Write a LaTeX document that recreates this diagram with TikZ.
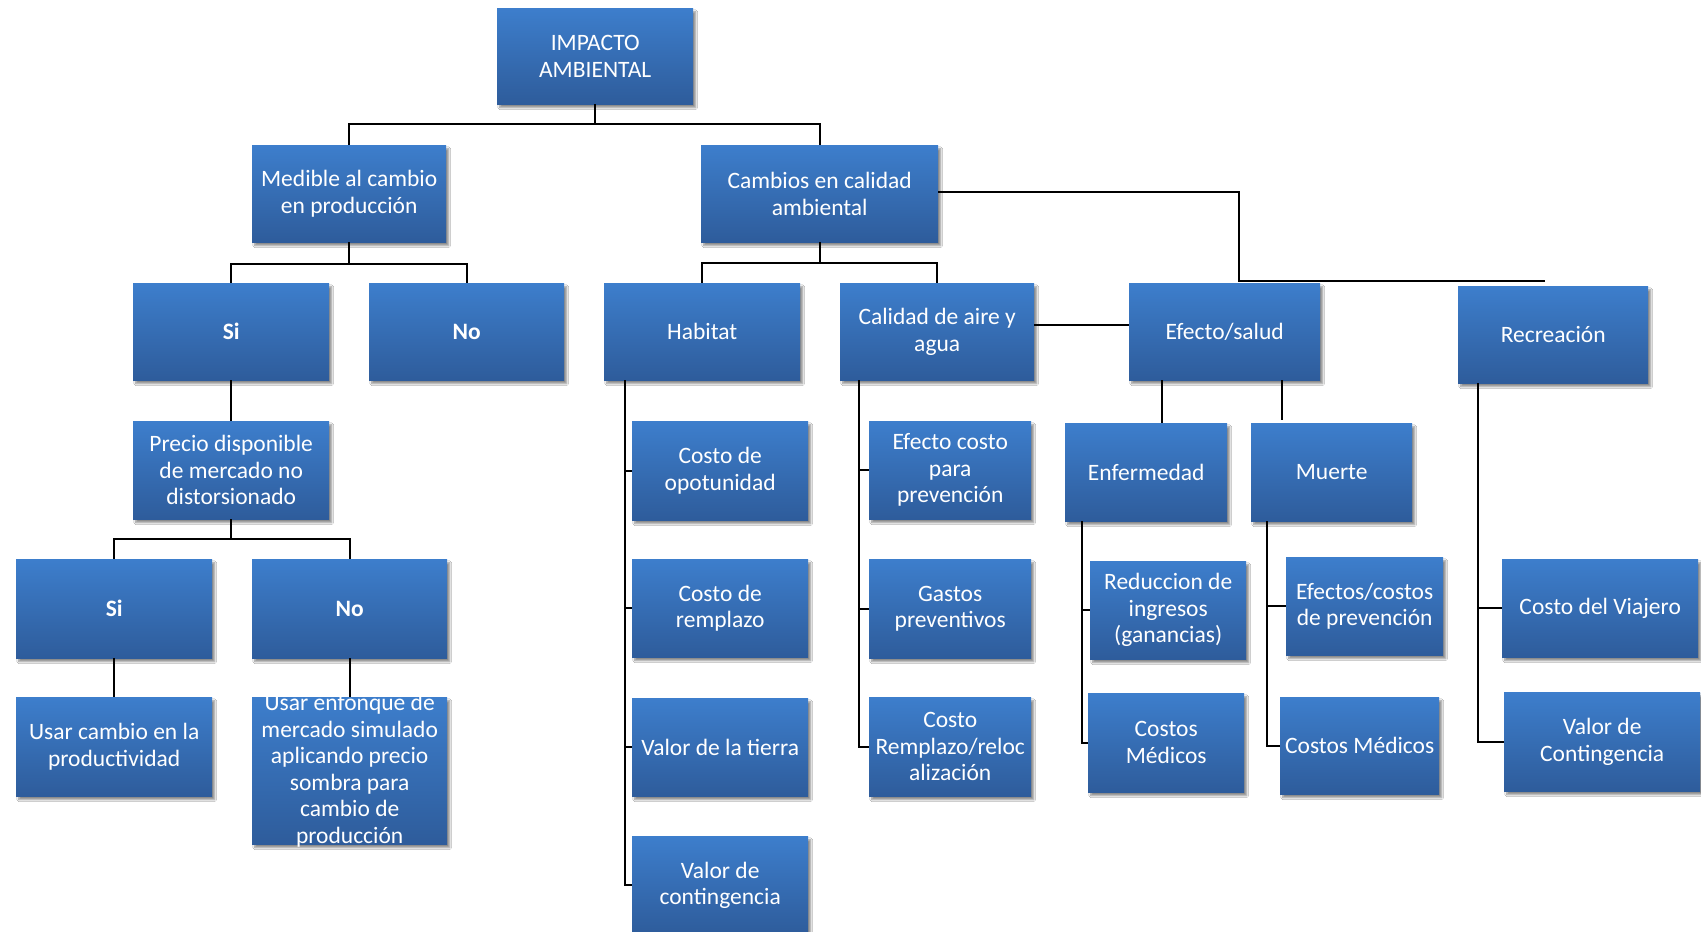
\documentclass[tikz,border=0pt]{standalone}
\usepackage{fontspec}
\setmainfont{Carlito}
\usetikzlibrary{shadows.blur,calc}
\definecolor{btop}{RGB}{61,126,204}
\definecolor{bbot}{RGB}{46,92,155}
\tikzset{
  boxsty/.style={rectangle, inner sep=0pt, draw=none, top color=btop, bottom color=bbot,
    blur shadow={shadow xshift=2.5pt, shadow yshift=-3.5pt, shadow blur steps=6, shadow opacity=45}},
  txtsty/.style={inner sep=0pt, text=white, align=center, font=\fontsize{23.5}{26.5}\selectfont},
  ln/.style={draw=black, line width=2pt}
}
\newcommand{\bx}[6]{%
  \node[boxsty, anchor=north west, minimum width={(#4)-(#2)}, minimum height={(#5)-(#3)}] (#1) at (#2,#3) {};
  \node[txtsty] (#1t) at (#1.center) {#6};
}
\begin{document}
\begin{tikzpicture}[x=1pt,y=-1pt]
\useasboundingbox[fill=white] (0,0) rectangle (1701,932);
\bx{imp}{497}{8}{693}{104}{IMPACTO\\AMBIENTAL}
\bx{med}{252}{145}{446}{242}{Medible al cambio\\en producción}
\bx{cam}{701}{145}{938}{242}{Cambios en calidad\\ambiental}
\bx{si1}{133}{283}{329}{380}{\textbf{Si}}
\bx{no1}{369}{283}{564}{380}{\textbf{No}}
\bx{pre}{133}{421}{329}{519}{Precio disponible\\de mercado no\\distorsionado}
\bx{si2}{16}{559}{212}{658}{\textbf{Si}}
\bx{no2}{252}{559}{447}{658}{\textbf{No}}
\bx{uc}{16}{697}{212}{796}{Usar cambio en la\\productividad}
\bx{ue}{252}{697}{447}{844}{Usar enfonque de\\mercado simulado\\aplicando precio\\sombra para\\cambio de\\producción}
\bx{hab}{604}{283}{800}{380}{Habitat}
\bx{c1}{632}{421}{808}{520}{Costo de\\opotunidad}
\bx{c2}{632}{559}{808}{657}{Costo de\\remplazo}
\bx{c3}{632}{698}{808}{796}{Valor de la tierra}
\bx{c4}{632}{836}{808}{934}{Valor de\\contingencia}
\bx{cal}{840}{283}{1034}{380}{Calidad de aire y\\agua}
\bx{e1}{869}{421}{1031}{519}{Efecto costo\\para\\prevención}
\bx{e2}{869}{559}{1031}{658}{Gastos\\preventivos}
\bx{e3}{869}{697}{1031}{796}{Costo\\Remplazo/reloc\\alización}
\bx{efe}{1129}{283}{1320}{380}{Efecto/salud}
\bx{rec}{1458}{286}{1648}{383}{Recreación}
\bx{enf}{1065}{423}{1227}{521}{Enfermedad}
\bx{mue}{1251}{423}{1412}{521}{Muerte}
\bx{r1}{1090}{561}{1246}{659}{Reduccion de\\ingresos\\(ganancias)}
\bx{r2}{1088}{693}{1244}{792}{Costos\\Médicos}
\bx{m1}{1286}{557}{1443}{655}{Efectos/costos\\de prevención}
\bx{m2}{1280}{697}{1439}{794}{Costos Médicos}
\bx{v1}{1502}{559}{1698}{657}{Costo del Viajero}
\bx{v2}{1504}{692}{1700}{791}{Valor de\\Contingencia}
% connectors
\draw[ln] (imp.south) -- ++(0,20) -| (med.north);
\draw[ln] (imp.south) -- ++(0,20) -| (cam.north);
\draw[ln] (med.south) -- ++(0,22) -| (si1.north);
\draw[ln] (med.south) -- ++(0,22) -| (no1.north);
\draw[ln] (cam.south) -- ++(0,21) -| (hab.north);
\draw[ln] (cam.south) -- ++(0,21) -| (cal.north);
\coordinate (cj) at (1239,281);
\coordinate (rj) at (1545,281);
\draw[ln] ([yshift=1.5pt]cam.east) -| (cj) -- (rj);
\draw[ln] ([yshift=7pt]cal.east) -- ([yshift=7pt]efe.west);
\draw[ln] (si1.south) -- (pre.north);
\draw[ln] (pre.south) -- ++(0,20) -| (si2.north);
\draw[ln] (pre.south) -- ++(0,20) -| (no2.north);
\draw[ln] (si2.south) -- (uc.north);
\draw[ln] (no2.south) -- (ue.north);
\coordinate (hb) at ([xshift=21pt]hab.south west);
\foreach \c in {c1,c2,c3,c4} \draw[ln] (hb) |- (\c.west);
\coordinate (cb) at ([xshift=19pt]cal.south west);
\foreach \c in {e1,e2,e3} \draw[ln] (cb) |- (\c.west);
\coordinate (ea) at ([xshift=33pt]efe.south west);
\coordinate (eb) at ([xshift=153pt]efe.south west);
\coordinate (mt) at ([yshift=3pt]mue.north);
\draw[ln] (ea) -- (ea |- enf.north);
\draw[ln] (eb) -- (eb |- mt);
\coordinate (fb) at ([xshift=17pt]enf.south west);
\foreach \c in {r1,r2} \draw[ln] (fb) |- (\c.west);
\coordinate (gb) at ([xshift=16pt]mue.south west);
\foreach \c in {m1,m2} \draw[ln] (gb) |- (\c.west);
\coordinate (rb) at ([xshift=20pt]rec.south west);
\foreach \c in {v1,v2} \draw[ln] (rb) |- (\c.west);
\end{tikzpicture}
\end{document}
